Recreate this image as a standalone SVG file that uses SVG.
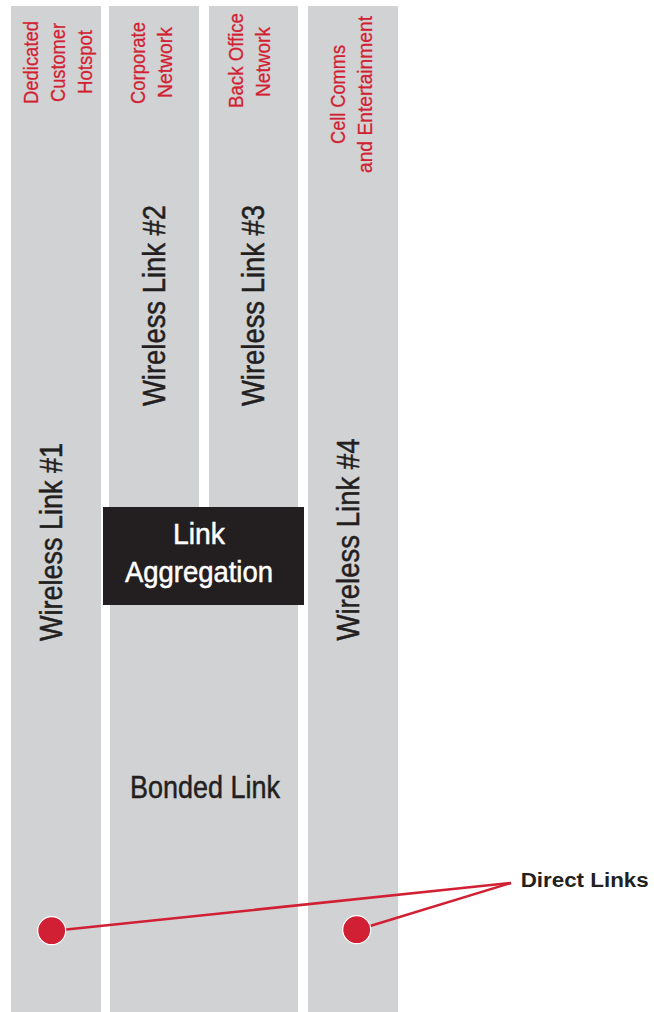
<svg xmlns="http://www.w3.org/2000/svg" width="654" height="1012" viewBox="0 0 654 1012">
<style>
.col{fill:#d1d2d4}
.red{font-family:"Liberation Sans",Arial,sans-serif;font-size:21px;fill:#d11f33;stroke:#d11f33;stroke-width:0.3;text-anchor:middle}
.wl{font-family:"Liberation Sans",Arial,sans-serif;font-size:32px;fill:#231f20;stroke:#231f20;stroke-width:0.5;text-anchor:middle}
.agg{font-family:"Liberation Sans",Arial,sans-serif;font-size:29px;fill:#ffffff;stroke:#ffffff;stroke-width:0.5;text-anchor:middle}
.conn{stroke:#d11f33;stroke-width:2.5;fill:none}
.dot{fill:#d11f33;stroke:#ffffff;stroke-width:1.2}
</style>
<rect width="654" height="1012" fill="#ffffff"/>
<g id="col1">
<rect class="col" x="11" y="6" width="90" height="1006"/>
<text class="red" transform="translate(38.3,62.5) rotate(-90)" textLength="83" lengthAdjust="spacingAndGlyphs">Dedicated</text>
<text class="red" transform="translate(65,62.5) rotate(-90)" textLength="79" lengthAdjust="spacingAndGlyphs">Customer</text>
<text class="red" transform="translate(92,62) rotate(-90)" textLength="64" lengthAdjust="spacingAndGlyphs">Hotspot</text>
<text class="wl" transform="translate(62.3,542) rotate(-90)" textLength="198" lengthAdjust="spacingAndGlyphs">Wireless Link #1</text>
</g>
<g id="col2">
<rect class="col" x="109" y="6" width="90" height="520"/>
<text class="red" transform="translate(145,63) rotate(-90)" textLength="82" lengthAdjust="spacingAndGlyphs">Corporate</text>
<text class="red" transform="translate(172,62.5) rotate(-90)" textLength="71" lengthAdjust="spacingAndGlyphs">Network</text>
<text class="wl" transform="translate(165,305.5) rotate(-90)" textLength="201" lengthAdjust="spacingAndGlyphs">Wireless Link #2</text>
</g>
<g id="col3">
<rect class="col" x="209" y="6" width="89" height="520"/>
<text class="red" transform="translate(243,60.5) rotate(-90)" textLength="95" lengthAdjust="spacingAndGlyphs">Back Office</text>
<text class="red" transform="translate(270,62) rotate(-90)" textLength="70" lengthAdjust="spacingAndGlyphs">Network</text>
<text class="wl" transform="translate(264,305.5) rotate(-90)" textLength="201" lengthAdjust="spacingAndGlyphs">Wireless Link #3</text>
</g>
<g id="col4">
<rect class="col" x="308" y="6" width="90" height="1006"/>
<text class="red" transform="translate(345,94.5) rotate(-90)" textLength="99" lengthAdjust="spacingAndGlyphs">Cell Comms</text>
<text class="red" transform="translate(372,94.5) rotate(-90)" textLength="157" lengthAdjust="spacingAndGlyphs">and Entertainment</text>
<text class="wl" transform="translate(359.3,539.5) rotate(-90)" textLength="202" lengthAdjust="spacingAndGlyphs">Wireless Link #4</text>
</g>
<g id="bonded">
<rect class="col" x="110" y="590" width="188" height="422"/>
<text class="wl" x="205" y="798" textLength="150" lengthAdjust="spacingAndGlyphs">Bonded Link</text>
</g>
<g id="aggregation">
<rect x="103" y="507" width="201" height="98" fill="#231f20"/>
<text class="agg" x="199" y="544" textLength="52" lengthAdjust="spacingAndGlyphs">Link</text>
<text class="agg" x="199" y="582" textLength="148" lengthAdjust="spacingAndGlyphs">Aggregation</text>
</g>
<g id="connectors">
<line class="conn" x1="52" y1="931" x2="511" y2="883"/>
<line class="conn" x1="357" y1="930" x2="511" y2="883"/>
</g>
<g id="dot1"><circle class="dot" cx="51.7" cy="930.7" r="14"/></g>
<g id="dot2"><circle class="dot" cx="356.7" cy="929.7" r="14"/></g>
<g id="direct-links">
<text x="520.7" y="887" font-family="'Liberation Sans',Arial,sans-serif" font-size="20" font-weight="bold" fill="#231f20" textLength="128" lengthAdjust="spacingAndGlyphs">Direct Links</text>
</g>
</svg>
